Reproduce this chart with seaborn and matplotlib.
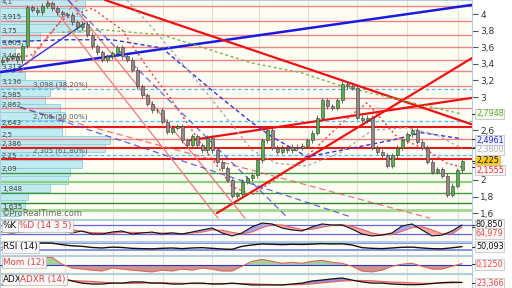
import numpy as np
import pandas as pd
import matplotlib
matplotlib.use("Agg")
import matplotlib.pyplot as plt
import matplotlib.transforms as mtransforms
import seaborn as sns

# ---------------- data ----------------
first_open = 3.42
closes = [3.45, 3.47, 3.49, 3.44, 3.62, 4.08, 4.05, 4.02, 4.10, 4.13, 4.07, 4.02, 4.00, 3.99, 3.90, 3.84, 3.88, 3.75, 3.61, 3.54,
          3.45, 3.49, 3.53, 3.60, 3.49, 3.45, 3.33, 3.13, 3.02, 2.92, 2.84, 2.84, 2.70, 2.58, 2.63, 2.65, 2.48, 2.42, 2.53, 2.42,
          2.36, 2.51, 2.36, 2.22, 2.14, 2.00, 1.81, 1.83, 1.98, 2.02, 2.06, 2.24, 2.48, 2.60, 2.39, 2.34, 2.39, 2.36, 2.40, 2.39,
          2.41, 2.48, 2.57, 2.75, 2.96, 2.89, 2.87, 2.96, 3.16, 3.13, 3.11, 2.75, 2.72, 2.75, 2.39, 2.34, 2.30, 2.17, 2.30, 2.39,
          2.48, 2.55, 2.60, 2.46, 2.39, 2.22, 2.10, 2.13, 2.05, 1.82, 1.93, 2.12, 2.225]

red_levels = [4.1, 3.915, 3.75, 3.603, 3.446, 3.313, 3.136, 2.985, 2.862, 2.643, 2.5, 2.386, 2.25]
red_labels = ["4,1", "3,915", "3,75", "3,603", "3,446", "3,313", "3,136", "2,985", "2,862", "2,643", "2,5", "2,386", "2,25"]
red_strong = [2.643, 2.386, 2.25]
green_levels = [2.09, 1.98, 1.848, 1.72, 1.635]
green_labels = ["2,09", "", "1,848", "", "1,635"]
fib_levels = [3.098, 2.705, 2.305]
fib_labels = ["3,098 (38,20%)", "2,705 (50,00%)", "2,305 (61,80%)"]

vp_price = [4.120, 4.024, 3.928, 3.831, 3.735, 3.639, 3.542, 3.446, 3.349, 3.253, 3.157, 3.060, 2.964, 2.867,
            2.771, 2.675, 2.578, 2.482, 2.386, 2.289, 2.193, 2.096, 2.000, 1.904, 1.807, 1.711, 1.614]
vp_volume = [85, 82, 82, 83, 40, 25, 15, 22, 20, 25, 65, 50, 45, 60, 65, 62, 62, 110, 105, 82, 82, 70, 68, 50, 28, 25, 20]

ma_green_t = [12, 20, 32, 50, 60, 68, 80, 92]
ma_green_v = [3.78, 3.81, 3.75, 3.41, 3.29, 3.13, 2.96, 2.7948]
ma_blue_t = [0, 12, 22, 32, 42, 50, 54, 61, 68, 78, 84, 92]
ma_blue_v = [3.66, 3.69, 3.69, 3.59, 3.08, 2.69, 2.52, 2.28, 2.36, 2.48, 2.57, 2.4961]
ma_gray_t = [25, 30, 40, 50, 55, 61, 68, 74, 81, 87, 92]
ma_gray_v = [4.17, 3.84, 3.12, 2.36, 2.20, 2.17, 2.34, 2.60, 2.63, 2.54, 2.38]
ma_red_t = [0, 6, 12, 18, 24, 29, 34, 40, 46, 50, 55, 60, 63, 68, 73, 79, 85, 89, 92]
ma_red_v = [3.42, 3.51, 3.93, 4.07, 3.81, 3.36, 2.96, 2.42, 1.92, 1.82, 2.02, 2.24, 2.40, 2.69, 2.93, 2.52, 2.36, 2.20, 2.1555]

# trend lines: (t0, p0, t1, p1)
blue_thick = (-0.4, 3.30, 94, 4.11)
blue_thin = (2.2, 3.30, 16.6, 3.89)
red_thick = [(20.6, 4.169, 94, 2.67), (43, 1.602, 94, 3.47), (37.6, 2.48, 94, 2.99)]
red_thin = [(9, 4.169, 43.2, 1.54), (13.2, 4.169, 48.6, 1.54)]
red_dashed = [(3.6, 3.29, 15, 4.169), (3.6, 2.87, 85.6, 1.54)]
blue_dashed = [(3.6, 2.88, 69.8, 1.554), (13.2, 4.169, 57.2, 1.54)]

grid_t = [12.6, 22.2, 32.2, 42, 51.4, 61.2, 71, 81, 91.2]
price_ticks = [1.6, 1.8, 2.0, 2.2, 2.4, 2.6, 2.8, 3.0, 3.2, 3.4, 3.6, 3.8, 4.0]
price_tick_labels = ["1,6", "1,8", "2", "", "", "2,6", "", "3", "3,2", "3,4", "3,6", "3,8", "4"]

ind_t = list(range(0, 93, 2))
stoch_k = [33, 27, 33, 53, 73, 87, 40, 27, 40, 20, 20, 33, 40, 20, 27, 33, 20, 27, 20, 33, 47, 60, 27, 7,
           27, 67, 93, 87, 60, 47, 40, 67, 87, 80, 80, 53, 20, 7, 13, 27, 73, 87, 47, 7, 13, 40, 80.85]
stoch_d = [35, 31, 31, 38, 53, 71, 67, 51, 36, 29, 27, 24, 31, 31, 29, 27, 27, 27, 22, 27, 33, 47, 45, 31,
           20, 34, 62, 82, 80, 65, 50, 51, 65, 78, 82, 71, 51, 27, 13, 16, 38, 62, 69, 47, 22, 20, 64.979]
rsi = [45, 46, 55, 68, 72, 71, 62, 55, 52, 45, 42, 47, 45, 40, 38, 37, 40, 42, 38, 42, 44, 40, 36, 34,
       52, 60, 66, 64, 62, 64, 63, 65, 68, 66, 67, 60, 44, 40, 38, 42, 46, 47, 42, 38, 37, 43, 50.093]
mom = [-0.08, -0.15, -0.08, 0.22, 0.6, 0.6, 0.08, -0.22, -0.3, -0.38, -0.45, -0.22, -0.3, -0.38, -0.45, -0.52,
       -0.38, -0.45, -0.3, -0.38, -0.22, -0.3, -0.45, -0.45, -0.08, 0.3, 0.45, 0.3, 0.15, 0.22, 0.15, 0.3,
       0.38, 0.22, 0.15, -0.08, -0.45, -0.52, -0.38, -0.08, 0.08, 0.15, -0.08, -0.3, -0.3, -0.08, 0.125]
adx = [13, 17, 26, 34, 43, 47, 43, 30, 21, 17, 17, 21, 21, 26, 26, 21, 21, 17, 17, 21, 21, 17, 17, 21,
       17, 13, 13, 13, 13, 17, 21, 30, 34, 39, 43, 34, 26, 21, 21, 17, 15, 14, 15, 19, 23, 25, 24]
adxr = [15, 15, 17, 20, 24, 28, 31, 32, 30, 28, 25, 22, 20, 20, 21, 22, 22, 21, 20, 19, 19, 19, 19, 19,
        19, 18, 16, 15, 14, 14, 15, 18, 22, 26, 30, 32, 32, 31, 28, 25, 24, 22, 20, 20, 21, 22, 23.366]

# ---------------- style ----------------
sns.set_theme(style="white")
plt.rcParams['font.family'] = ['DejaVu Sans']

W, H = 512, 288
XLIM = (-0.4, 94)
BG = '#fdfdf4'
SPINE = '#b3cde0'

fig = plt.figure(figsize=(W / 100, H / 100), dpi=100)
fig.patch.set_facecolor('white')


def add_axes(top, bottom):
    a = fig.add_axes([0, 1 - bottom / H, 472 / W, (bottom - top) / H])
    a.set_facecolor(BG)
    a.set_xlim(*XLIM)
    a.set_xticks([])
    for s in a.spines.values():
        s.set_color(SPINE)
        s.set_linewidth(0.8)
    for g in grid_t:
        a.axvline(g, color='#e2e2d6', lw=0.8, zorder=0.5)
    return a


ax = add_axes(0, 219)
ax_k = add_axes(220, 241)
ax_r = add_axes(242, 254.5)
ax_m = add_axes(255.5, 273)
ax_a = add_axes(274, 288)

ax.set_ylim(1.530, 4.169)
blend = mtransforms.blended_transform_factory(ax.transAxes, ax.transData)

# volume profile (behind)
ax.barh(vp_price, np.array(vp_volume) / 5.0, height=0.09, left=XLIM[0],
        color='#c0eaf0', edgecolor='#8ccfda', linewidth=0.6, zorder=1)

# horizontal levels
for lv in red_levels:
    strong = lv in red_strong
    ax.axhline(lv, color='#e81818' if strong else '#f07070', lw=1.5 if strong else 1.0,
               alpha=1.0 if strong else 0.85, zorder=2)
green_cols = ['#3c9a3c', '#8fd07f', '#3c9a3c', '#2f8a2f', '#9fd890']
green_lw = [1.0, 1.6, 1.0, 1.0, 2.0]
for lv, c, lw in zip(green_levels, green_cols, green_lw):
    ax.axhline(lv, color=c, lw=lw, zorder=2)
for lv in fib_levels:
    ax.axhline(lv, color='#55bbee', lw=0.9, ls=(0, (3, 2)), zorder=2)


def seg(tpl, **kw):
    ax.plot([tpl[0], tpl[2]], [tpl[1], tpl[3]], **kw)


seg(blue_thick, color='#1a1ae0', lw=1.8, zorder=3)
seg(blue_thin, color='#3030e0', lw=1.0, zorder=3)
for s in red_thick:
    seg(s, color='#ee1111', lw=1.6, zorder=3)
for s in red_thin:
    seg(s, color='#f07a7a', lw=0.9, zorder=3)
for s in red_dashed:
    seg(s, color='#ee5555', lw=0.9, ls=(0, (5, 3)), alpha=0.8, zorder=3)
for s in blue_dashed:
    seg(s, color='#4040d8', lw=0.9, ls=(0, (5, 3)), alpha=0.8, zorder=3)

# moving averages
sns.lineplot(x=ma_green_t, y=ma_green_v, ax=ax, color='#77b844', lw=1.0, linestyle=(0, (2, 2)), zorder=4)
sns.lineplot(x=ma_blue_t, y=ma_blue_v, ax=ax, color='#3535d8', lw=1.0, linestyle=(0, (3, 2)), zorder=4)
sns.lineplot(x=ma_gray_t, y=ma_gray_v, ax=ax, color='#aaaaaa', lw=1.0, linestyle=(0, (2, 2)), zorder=4)
sns.lineplot(x=ma_red_t, y=ma_red_v, ax=ax, color='#ee4444', lw=1.0, linestyle=(0, (1.5, 2)), zorder=4)

# candles
N = len(closes)
t = np.arange(N)
c = np.array(closes)
o = np.array([first_open] + closes[:-1])
lo = np.minimum(o, c)
hi = np.maximum(o, c)
hgt = np.maximum(hi - lo, 0.008)
up = c >= o
ax.vlines(t, lo - 0.03, hi + 0.03, color='#505050', lw=0.6, zorder=5)
ax.bar(t[up], hgt[up], bottom=lo[up], width=0.6, color='#56b04a', edgecolor='#3a3a3a', lw=0.4, zorder=6)
ax.bar(t[~up], hgt[~up], bottom=lo[~up], width=0.6, color='#9a8686', edgecolor='#3a3a3a', lw=0.4, zorder=6)

# left labels
for lv, lb in zip(red_levels + green_levels, red_labels + green_labels):
    if lb:
        ax.annotate(lb, xy=(0.004, lv), xycoords=blend, xytext=(0, 0.5), textcoords='offset points',
                    fontsize=5, color='#444444', va='bottom', ha='left', zorder=8)
for lv, lb in zip(fib_levels, fib_labels):
    ax.annotate(lb, xy=(0.07, lv), xycoords=blend, xytext=(0, 0.8), textcoords='offset points',
                fontsize=5, color='#555555', va='bottom', ha='left', zorder=8)
ax.text(0.004, 0.027, "©ProRealTime.com", transform=ax.transAxes, fontsize=6, color='#666666',
        va='center', ha='left', zorder=8)

# right axis
ax.yaxis.tick_right()
ax.set_yticks(price_ticks)
ax.set_yticklabels(price_tick_labels)
ax.tick_params(axis='y', which='both', right=True, length=4, width=0.8, color='#555555',
               labelsize=6.5, pad=2, labelcolor='#333333')
ax.set_xlabel('')
ax.set_ylabel('')


def value_box(a, val, text, color, fc, label_px=None):
    """val: data value marked by a dash; label_px: vertical pixel (figure, from top) for the box."""
    tr = mtransforms.blended_transform_factory(a.transAxes, a.transData)
    a.plot([1.0, 1.009], [val, val], transform=tr, color='#333333', lw=0.8, clip_on=False, zorder=9)
    if label_px is None:
        a.annotate(text, xy=(1.0, val), xycoords=tr, xytext=(5, 0), textcoords='offset points',
                   fontsize=5.8, color=color, va='center', ha='left', annotation_clip=False, zorder=10,
                   bbox=dict(boxstyle='square,pad=0.08', fc=fc, ec='#bbbbbb', lw=0.5))
    else:
        fig.text(476 / W, 1 - label_px / H, text, fontsize=5.8, color=color, va='center', ha='left',
                 zorder=10, bbox=dict(boxstyle='square,pad=0.08', fc=fc, ec='#bbbbbb', lw=0.5))


value_box(ax, 2.7948, "2,7948", '#6aac38', '#f3f9ec', 114)
value_box(ax, 2.4961, "2,4961", '#2b2bd0', '#eef0ff', 140.5)
value_box(ax, 2.3800, "2,3800", '#b4b4b4', '#f8f8f8', 149.8)
value_box(ax, 2.225, "2,225", '#111111', '#ffcc11', 160.7)
value_box(ax, 2.1555, "2,1555", '#dd3333', '#fff2f2', 170)

# ---------------- indicators ----------------
ti = np.array(ind_t)
lbl_box = dict(boxstyle='square,pad=0.15', fc='#f7f7f7', ec='#bbbbbb', lw=0.5)

# stochastic
ax_k.set_ylim(-26.7, 113.3)
for lv in (80, 20):
    ax_k.axhline(lv, color='#6464dd', lw=0.9, zorder=2)
K = np.array(stoch_k, float)
D = np.array(stoch_d, float)
ax_k.fill_between(ti, K, D, where=K >= D, color='#a6a6ee', interpolate=True, lw=0, zorder=2.5)
ax_k.fill_between(ti, K, D, where=K < D, color='#f2a8a8', interpolate=True, lw=0, zorder=2.5)
sns.lineplot(x=ti, y=D, ax=ax_k, color='#ee6060', lw=0.8, zorder=3)
sns.lineplot(x=ti, y=K, ax=ax_k, color='#111111', lw=0.8, zorder=3)
ax_k.text(0.006, 0.72, "%K", transform=ax_k.transAxes, fontsize=6.3, color='#111111', va='center',
          ha='left', zorder=10, bbox=lbl_box)
ax_k.text(0.04, 0.72, "%D (14 3 5)", transform=ax_k.transAxes, fontsize=6.3, color='#dd4444', va='center',
          ha='left', zorder=10, bbox=lbl_box)
value_box(ax_k, 80.85, "80,850", '#111111', '#f8f8f8', 224.5)
value_box(ax_k, 64.979, "64,979", '#e05050', '#fff5f5', 233.5)

# RSI
ax_r.set_ylim(3, 77.8)
for lv in (70, 30):
    ax_r.axhline(lv, color='#8c8ce8', lw=1.4, zorder=2)
sns.lineplot(x=ti, y=rsi, ax=ax_r, color='#111111', lw=1.0, zorder=3)
ax_r.text(0.006, 0.6, "RSI (14)", transform=ax_r.transAxes, fontsize=6.3, color='#111111', va='center',
          ha='left', zorder=10, bbox=lbl_box)
value_box(ax_r, 50.093, "50,093", '#111111', '#f8f8f8', 246.5)

# Momentum
ax_m.set_ylim(-0.6, 0.75)
M = np.array(mom, float)
ax_m.fill_between(ti, 0, M, where=M >= 0, color='#a3d496', interpolate=True, lw=0, zorder=2)
ax_m.fill_between(ti, 0, M, where=M < 0, color='#c99690', interpolate=True, lw=0, zorder=2)
ax_m.axhline(0, color='#3434cc', lw=0.8, zorder=3)
sns.lineplot(x=ti, y=M, ax=ax_m, color='#e06060', lw=0.8, zorder=3)
ax_m.text(0.006, 0.62, "Mom (12)", transform=ax_m.transAxes, fontsize=6.3, color='#dd4444', va='center',
          ha='left', zorder=10, bbox=lbl_box)
value_box(ax_m, 0.125, "0,1250", '#e05050', '#fff5f5', 264.5)

# ADX
ax_a.set_ylim(0, 60)
A = np.array(adx, float)
AR = np.array(adxr, float)
ax_a.fill_between(ti, A, AR, where=A >= AR, color='#9090e0', interpolate=True, lw=0, zorder=2)
ax_a.fill_between(ti, A, AR, where=A < AR, color='#f0b4b4', interpolate=True, lw=0, zorder=2)
sns.lineplot(x=ti, y=AR, ax=ax_a, color='#ee6060', lw=0.9, zorder=3)
sns.lineplot(x=ti, y=A, ax=ax_a, color='#111111', lw=0.9, zorder=3)
ax_a.text(0.006, 0.6, "ADX", transform=ax_a.transAxes, fontsize=6.3, color='#111111', va='center',
          ha='left', zorder=10, bbox=lbl_box)
ax_a.text(0.042, 0.6, "ADXR (14)", transform=ax_a.transAxes, fontsize=6.3, color='#dd4444', va='center',
          ha='left', zorder=10, bbox=lbl_box)
value_box(ax_a, 23.366, "23,366", '#e05050', '#fff5f5', 283.5)

for a in (ax_k, ax_r, ax_m, ax_a):
    a.set_yticks([])
    a.set_xlabel('')
    a.set_ylabel('')
    a.set_xlim(*XLIM)
ax.set_xlim(*XLIM)

fig.savefig("out.png", dpi=100, facecolor=fig.get_facecolor())
